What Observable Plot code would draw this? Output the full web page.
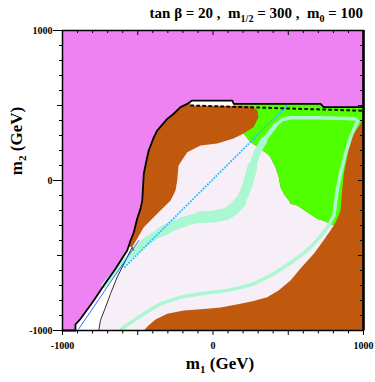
<!DOCTYPE html>
<html>
<head>
<meta charset="utf-8">
<script src="https://cdn.jsdelivr.net/npm/d3@7"></script>
<script src="https://cdn.jsdelivr.net/npm/@observablehq/plot@0.6"></script>
<style>
  html, body { margin: 0; padding: 0; background: #ffffff; }
  svg, svg text, svg tspan { font-family: "Liberation Serif", "Times New Roman", serif !important; font-weight: bold !important; }
</style>
</head>
<body>
<div id="chart"></div>
<script>
// ---------- data (m1, m2 in GeV) ----------
const minorTicks = [-900,-800,-700,-600,-400,-300,-200,-100,100,200,300,400,600,700,800,900];
const midTicks = [-500, 500];
const majorTicks = [-1000, 0, 1000];

// thick black boundary of the allowed region
const boundary = [[-1000,-1000],[-914,-1000],[-914,-960],[-880,-922],[-792,-800],[-726,-700],[-648,-589],
  [-570,-467],[-548,-400],[-526,-345],[-504,-255],[-482,-189],[-470,-133],[-460,45],[-442,133],[-427,200],
  [-393,289],[-371,333],[-304,411],[-261,445],[-216,489],[-171,511],[-138,533],[128,533],[138,511],
  [714,511],[736,489],[1000,489]];
const brownCorner = [[1000,-1000]];

const greenRegion = [[138,511],[714,511],[736,489],[1000,489],[1000,420],[981,378],[934,311],[900,200],
  [869,45],[858,-67],[847,-200],[820,-267],[803,-300],[759,-278],[692,-255],[626,-211],[560,-167],
  [515,-155],[504,-133],[470,-89],[449,-45],[437,22],[415,89],[382,155],[360,178],[282,233],[249,255],
  [203,313],[269,355],[302,422],[296,467],[263,493],[138,498]];

const lavenderRegion = [[-759,-1000],[-748,-933],[-714,-845],[-681,-755],[-637,-645],[-581,-533],
  [-548,-467],[-537,-445],[-460,-311],[-371,-222],[-282,-133],[-249,-67],[-238,0],[-229,100],[-171,189],
  [-83,233],[28,247],[136,280],[203,313],[249,255],[282,233],[360,178],[382,155],[415,89],[437,22],
  [449,-45],[470,-89],[504,-133],[515,-155],[560,-167],[626,-211],[692,-255],[759,-278],[803,-300],
  [734,-400],[670,-489],[581,-587],[515,-667],[435,-733],[360,-778],[269,-803],[183,-822],[50,-847],
  [-39,-855],[-194,-867],[-304,-889],[-382,-927],[-429,-967],[-460,-1000]];

const whiteTop = [[-150,522],[-138,533],[128,533],[138,511],[138,497],[-150,500]];
const whiteSliver = [[-914,-1000],[-914,-960],[-880,-922],[-792,-800],[-726,-700],[-648,-589],
  [-570,-467],[-560,-440],[-537,-445],[-581,-533],[-637,-645],[-681,-755],[-714,-845],[-748,-933],[-759,-1000]];

const thinLine = [[-759,-1000],[-748,-933],[-714,-845],[-681,-755],[-637,-645],[-581,-533],
  [-548,-467],[-537,-445],[-527,-465]];

const mintArc = [[-615,-1000],[-593,-978],[-460,-889],[-349,-822],[-216,-778],[-83,-755],[94,-733],
  [183,-713],[271,-689],[336,-657],[404,-622],[468,-580],[537,-533],[601,-487],[670,-422],[714,-373],
  [761,-313],[803,-233],[814,-155],[825,-67],[847,45],[880,178],[914,289],[947,367],[962,395],
  [947,410],[892,413],[692,418],[515,418],[460,407],[415,367]];

const mintBand = [[415,367],[371,311],[338,267],[294,189],[261,89],[238,0],[216,-67],[183,-140],
  [138,-189],[94,-222],[5,-240],[-83,-245],[-171,-267],[-261,-300],[-349,-345],[-437,-400],
  [-526,-478],[-615,-567],[-681,-645],[-726,-700]];

const blueSolid = [[-892,-989],[-493,-400]];
const blueDotted = [[-590,-580],[493,500]];
const dashedLine = [[-150,500],[1000,465]];

// ---------- styles ----------
const PINK = "#ee82f2", BROWN = "#c0590d", GREEN = "#50ff00", LAV = "#f6eff7", MINT = "#aaf7d2";
const SERIF = "'Liberation Serif', 'Times New Roman', serif";
const X = d => d[0], Y = d => d[1];
const poly = (pts, fill) => Plot.line(pts, {x: X, y: Y, fill, stroke: "none"});

// band segments: [startIndex, endIndex, strokeWidth]
const bandSegs = [[0,2,4.5],[2,4,7],[4,7,10],[7,11,12],[11,14,10],[14,16,8],[16,19,5]];

const chart = Plot.plot({
  width: 375, height: 382,
  marginLeft: 62, marginRight: 12, marginTop: 30, marginBottom: 52,
  x: {domain: [-1000, 1000]},
  y: {domain: [-1000, 1000]},
  style: {fontFamily: SERIF, fontWeight: "bold", fontSize: "10px", background: "#ffffff", overflow: "visible"},
  marks: [
    Plot.frame({fill: PINK, stroke: "none"}),
    poly(boundary.slice(1).concat(brownCorner), BROWN),
    poly(lavenderRegion, LAV),
    poly(greenRegion, GREEN),
    poly(whiteTop, "#ffffff"),
    poly(whiteSliver, "#ffffff"),
    Plot.line(mintArc, {x: X, y: Y, stroke: MINT, strokeWidth: 3.5, clip: true}),
    ...bandSegs.map(([a, b, w]) => Plot.line(mintBand.slice(a, b + 1), {x: X, y: Y, stroke: MINT, strokeWidth: w, strokeLinecap: "round", clip: true})),
    Plot.line(thinLine, {x: X, y: Y, stroke: "#222", strokeWidth: 0.9}),
    Plot.line(blueSolid, {x: X, y: Y, stroke: "#4466ff", strokeWidth: 1}),
    Plot.line(blueDotted, {x: X, y: Y, stroke: "#33bbff", strokeWidth: 1.8, strokeDasharray: "1.8,1.2", strokeLinecap: "butt"}),
    Plot.line(dashedLine, {x: X, y: Y, stroke: "#000", strokeWidth: 2, strokeDasharray: "3.5,2.5", strokeLinecap: "butt"}),
    Plot.line(boundary, {x: X, y: Y, stroke: "#000", strokeWidth: 1.8}),
    // inward ticks on top and right
    Plot.tickX(minorTicks, {x: d => d, insetBottom: 297, stroke: "#000", strokeWidth: 1}),
    Plot.tickX(midTicks.concat(majorTicks), {x: d => d, insetBottom: 295, stroke: "#000", strokeWidth: 1}),
    Plot.tickY(minorTicks, {y: d => d, insetLeft: 298, stroke: "#000", strokeWidth: 1}),
    Plot.tickY(midTicks.concat(majorTicks), {y: d => d, insetLeft: 296, stroke: "#000", strokeWidth: 1}),
    // outward axes bottom and left
    Plot.axisX(minorTicks, {anchor: "bottom", tickSize: 3.5, tickFormat: () => "", label: null}),
    Plot.axisX(midTicks, {anchor: "bottom", tickSize: 5, tickFormat: () => "", label: null}),
    Plot.axisX(majorTicks, {anchor: "bottom", tickSize: 5, tickPadding: 6, tickFormat: d => String(d), label: null, fontSize: 10, fontWeight: "bold", fontFamily: SERIF}),
    Plot.axisY(minorTicks, {anchor: "left", tickSize: 3, tickFormat: () => "", label: null}),
    Plot.axisY(midTicks, {anchor: "left", tickSize: 5, tickFormat: () => "", label: null}),
    Plot.axisY(majorTicks, {anchor: "left", tickSize: 9, tickPadding: 1, tickFormat: d => String(d), label: null, fontSize: 10, fontWeight: "bold", fontFamily: SERIF}),
    Plot.frame({stroke: "#000", strokeWidth: 1.5}),
    Plot.ruleX([1000], {stroke: "#000", strokeWidth: 2.5})
  ]
});
document.getElementById("chart").appendChild(chart);

// ---------- titles with subscripts ----------
const svg = d3.select(chart);
function label(sel, size, subSize, parts) {
  sel.attr("font-family", SERIF).attr("font-weight", "bold").attr("font-size", size)
    .style("font-size", size + "px").style("white-space", "pre").attr("fill", "#000");
  parts.forEach(([txt, sub]) => {
    const ts = sel.append("tspan").text(txt);
    if (sub) ts.attr("dy", 4).attr("font-size", subSize).style("font-size", subSize + "px");
    else if (sel.selectAll("tspan").size() > 1) ts.attr("dy", -4);
  });
}
label(svg.append("text").attr("x", 363).attr("y", 18).attr("text-anchor", "end"), 15, 10,
  [["tan \u03B2 = 20 ,  m"], ["1/2", true], [" = 300 ,  m"], ["0", true], [" = 100"]]);
label(svg.append("text").attr("x", 220).attr("y", 369).attr("text-anchor", "middle"), 17, 11,
  [["m"], ["1", true], [" (GeV)"]]);
label(svg.append("text").attr("transform", "translate(21.5,141) rotate(-90)").attr("text-anchor", "middle"), 17, 11,
  [["m"], ["2", true], [" (GeV)"]]);
</script>
</body>
</html>
